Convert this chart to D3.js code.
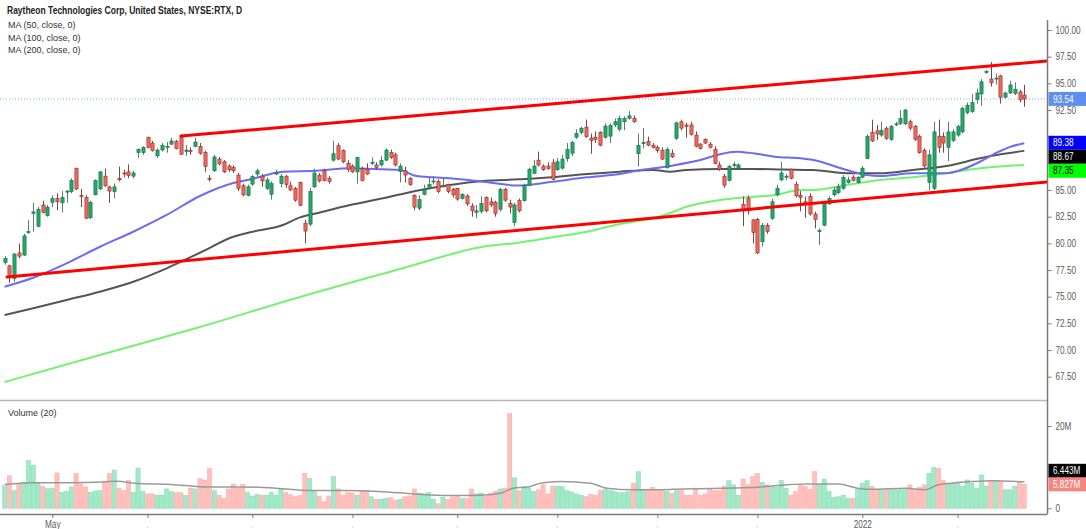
<!DOCTYPE html>
<html>
<head>
<meta charset="utf-8">
<script src="https://cdn.jsdelivr.net/npm/d3@7"></script>
<style>
  html, body { margin: 0; padding: 0; background: #fff; }
  svg { display: block; font-family: "Liberation Sans", Arial, sans-serif; }
</style>
</head>
<body>
<div id="chart"></div>
<script>
// RTX daily, Apr 19 2021 .. Feb 22 2022 (one entry per trading day)
var opens = [78.2,77.9,76.7,79.1,78.9,81.0,82.8,81.6,83.6,82.6,83.85,84.2,83.8,84.8,84.85,87.0,84.5,84.3,82.4,84.55,
  85.1,86.3,85.3,84.85,86.1,86.6,86.7,86.3,88.5,88.5,89.95,89.4,88.2,88.75,89.0,89.3,89.55,89.95,88.6,88.7,
  89.1,89.1,88.5,86.1,86.8,87.9,87.65,87.25,87.1,86.4,85.4,84.5,85.55,86.5,86.3,85.15,84.6,86.5,85.6,86.3,
  85.4,85.15,85.7,81.9,81.8,85.3,86.4,86.8,86.1,87.8,89.15,88.7,87.5,87.25,86.7,87.0,86.95,87.5,87.35,87.35,
  87.8,88.5,88.3,86.72,86.8,86.1,84.5,83.3,84.6,85.15,85.8,85.8,85.3,85.5,85.05,85.15,84.2,84.45,83.5,82.9,
  83.0,84.3,83.9,83.85,83.2,85.05,83.75,81.95,84.0,84.0,85.45,86.55,87.8,87.25,87.25,87.55,86.9,87.05,87.95,88.45,
  89.95,90.4,90.9,89.85,89.95,90.4,89.95,90.05,91.1,90.7,91.4,91.7,91.7,88.4,89.35,89.55,89.2,89.0,88.7,87.1,
  88.45,89.85,91.4,91.1,91.1,90.15,89.3,89.75,89.3,88.8,87.35,86.3,85.9,87.3,87.05,83.65,84.2,82.2,82.25,80.15,
  81.7,82.35,84.55,85.95,86.2,86.95,85.55,84.5,83.9,84.4,82.75,81.1,81.7,83.7,84.55,84.75,85.15,85.7,86.2,85.7,
  86.2,87.95,90.4,90.55,90.15,90.8,89.75,91.1,91.25,91.2,91.4,90.95,90.05,88.7,85.7,85.15,90.05,90.0,89.0,89.65,
  90.15,90.45,92.25,92.35,93.5,94.0,96.0,95.4,95.4,95.7,93.7,94.1,94.05,94.2,93.9];
var highs = [78.8,78.0,79.1,80.0,80.9,82.2,83.8,83.4,84.0,83.6,84.5,84.7,84.9,85.0,86.1,87.1,85.1,84.5,84.0,86.0,
  86.8,87.0,85.4,85.6,87.2,86.9,87.4,86.8,88.9,89.1,90.0,89.6,88.9,89.4,89.5,89.9,89.7,90.2,89.2,89.0,
  89.9,89.4,88.7,86.4,88.3,88.1,87.8,87.4,87.3,86.6,85.6,85.5,86.4,87.0,86.5,86.2,85.8,86.9,86.5,86.4,
  85.8,85.3,85.8,82.2,85.2,87.0,86.6,87.0,86.3,89.6,89.4,88.8,87.8,87.4,88.1,87.2,87.5,88.05,87.6,88.2,
  88.9,88.8,88.5,87.5,87.2,86.2,84.6,84.5,85.5,86.2,86.3,86.0,86.1,85.6,85.2,85.2,84.7,84.6,83.75,83.6,
  84.4,84.4,84.3,84.0,85.2,85.2,84.1,83.8,84.2,85.6,87.1,87.8,88.6,87.4,87.6,87.9,88.0,88.3,89.4,89.6,
  90.7,90.95,91.6,90.3,90.5,90.5,91.25,91.25,91.7,92.0,91.9,92.4,92.0,90.3,90.8,90.0,89.4,89.2,89.0,89.0,
  88.8,91.4,91.6,91.3,91.4,90.5,89.4,89.85,89.5,89.1,87.65,86.5,87.35,87.65,87.5,84.4,84.5,82.3,82.4,81.9,
  81.9,84.2,85.5,87.65,86.5,87.0,85.8,84.9,84.4,84.7,82.97,81.4,83.9,84.4,85.3,85.6,86.4,86.25,86.4,86.3,
  87.25,90.2,91.6,91.1,91.4,90.95,91.1,91.4,92.5,92.6,91.6,91.1,90.2,88.9,88.8,91.4,91.6,90.4,91.4,90.7,
  91.1,92.8,93.2,94.0,94.5,95.4,96.25,97.0,95.9,95.8,94.2,95.25,95.1,94.4,94.85];
var lows = [78.0,76.3,76.4,78.6,78.8,80.9,81.1,81.5,82.8,82.5,83.4,83.1,82.9,83.8,84.7,85.0,83.4,82.3,82.3,84.5,
  85.0,85.3,83.8,84.2,85.8,86.2,86.1,86.1,88.0,88.3,88.9,88.6,88.0,88.6,88.5,89.2,88.8,88.3,88.2,88.3,
  89.0,88.3,86.7,85.8,86.7,87.3,86.6,86.7,86.6,84.9,84.4,84.4,85.4,86.25,85.3,85.0,84.1,86.4,85.25,85.2,
  84.9,83.9,83.5,80.0,81.6,85.2,85.7,85.8,85.6,87.65,87.8,87.5,86.7,86.6,85.6,85.8,86.4,87.35,86.9,87.2,
  87.7,87.9,87.2,85.7,85.7,85.4,83.1,83.1,84.5,85.05,85.5,84.7,85.25,84.7,84.3,84.0,84.1,83.5,82.5,82.35,
  82.8,82.9,83.4,82.5,83.0,83.9,82.8,81.6,82.9,83.9,85.4,86.5,87.2,86.8,86.9,85.9,86.8,86.9,87.65,88.2,
  89.8,90.2,89.9,88.4,89.4,89.1,89.8,89.4,90.9,90.5,90.6,91.6,91.3,87.2,88.9,89.1,88.9,88.5,87.8,87.0,
  88.0,89.7,90.6,89.9,90.1,89.0,88.8,89.3,88.9,87.4,86.8,85.2,85.8,87.0,86.9,81.6,82.7,80.0,79.0,79.7,
  80.9,82.2,84.4,85.8,85.95,86.0,84.3,83.0,82.4,82.6,81.4,79.85,81.6,83.6,84.4,84.6,85.0,85.6,85.8,85.6,
  86.1,87.9,89.5,89.7,90.0,89.7,89.6,91.0,91.1,91.1,90.6,89.6,88.4,87.1,85.0,85.0,88.5,88.5,87.7,89.5,
  90.0,90.3,92.1,92.2,93.1,92.9,95.9,94.7,94.9,93.1,93.6,94.0,93.9,93.2,92.8];
var closes = [78.6,77.0,79.0,78.8,80.7,81.1,82.95,83.2,82.9,83.4,84.2,83.9,84.3,84.9,85.9,85.1,84.4,82.35,83.85,85.9,
  86.7,85.4,84.9,85.3,85.95,86.5,86.35,86.6,88.8,89.0,89.0,88.7,88.75,89.2,89.1,89.6,88.9,88.35,88.75,88.6,
  89.5,88.45,87.2,86.0,88.1,87.45,86.7,86.9,86.8,85.15,84.55,85.3,86.25,86.8,85.85,85.95,85.6,86.6,86.3,85.5,
  85.0,84.05,83.55,81.15,84.85,86.6,85.85,85.9,85.8,88.4,87.9,87.65,86.95,86.7,88.05,85.9,86.5,87.6,87.1,87.75,
  88.75,88.05,87.35,87.25,86.4,85.5,83.4,84.1,85.05,85.5,85.85,84.85,85.45,84.85,84.55,84.15,84.6,83.7,83.05,83.05,
  83.75,83.05,83.6,82.8,85.05,84.05,83.4,83.6,83.05,85.45,86.95,87.25,87.35,86.9,87.0,86.0,87.65,87.9,88.8,89.45,
  90.3,90.8,90.0,89.65,89.75,89.2,91.0,91.05,91.4,91.7,91.7,91.95,91.4,89.2,89.45,89.2,89.0,88.7,87.9,88.8,
  88.1,91.3,90.8,90.95,90.2,89.1,88.9,89.4,89.0,87.5,86.95,85.45,87.2,87.4,87.35,83.1,83.05,81.0,79.1,81.7,
  81.1,83.9,85.15,86.6,86.3,86.1,84.45,84.3,83.7,82.75,82.25,81.2,83.75,84.2,85.0,85.3,86.2,85.95,85.9,86.2,
  87.05,90.05,89.6,90.25,90.6,89.85,90.95,91.2,91.7,92.5,90.8,89.75,88.5,87.25,88.3,90.45,89.0,89.4,90.45,90.45,
  90.95,92.65,92.95,93.2,94.1,95.15,96.1,95.05,95.5,93.7,94.1,94.85,94.45,93.45,93.54];
// volume in millions
var volumes = [5.5,7.9,4.3,5.8,6.35,11.6,10.5,6.35,5.3,4.75,4.9,8.6,3.9,4.1,5.2,8.5,5.9,5.2,3.9,4.2,
  4.3,6.4,8.5,9.3,4.9,4.3,6.85,3.9,9.8,4.1,3.5,3.5,3.2,3.2,4.7,4.1,3.8,3.8,3.1,4.9,
  4.7,7.2,6.85,9.7,4.3,3.2,2.4,4.7,5.9,4.9,5.8,3.8,3.0,3.4,3.2,3.2,3.8,3.2,4.7,3.8,
  3.3,2.8,3.1,8.5,7.3,4.3,3.0,1.6,3.0,7.7,4.7,3.2,3.8,3.7,3.2,4.1,4.3,2.8,2.2,2.2,
  2.4,2.6,2.0,2.2,2.8,3.0,4.7,3.7,3.5,3.8,2.2,1.1,2.7,2.2,2.8,3.2,2.4,2.4,4.7,3.5,
  3.7,3.0,3.7,4.1,4.7,4.9,23.0,7.4,4.3,5.3,4.9,4.1,4.5,5.7,3.5,5.4,5.4,5.3,4.3,4.0,
  3.5,3.2,2.8,3.4,3.2,4.3,4.6,4.3,4.05,3.8,3.8,4.05,6.1,8.9,4.3,4.5,5.1,4.3,4.3,4.05,
  3.65,4.3,4.3,3.2,3.2,4.9,3.2,3.5,4.6,4.3,4.3,5.4,6.7,5.7,3.2,7.1,5.7,7.7,8.5,6.25,
  5.7,5.3,5.1,6.7,4.9,3.2,4.05,5.7,5.4,4.6,8.9,5.8,7.1,4.05,2.7,2.8,3.2,2.4,2.4,4.6,
  6.1,6.7,5.4,4.6,4.5,4.5,4.5,4.5,4.5,4.5,5.7,4.5,5.1,5.7,8.5,9.9,9.7,6.7,5.9,6.1,
  6.1,5.4,6.9,6.1,4.9,8.1,5.4,6.7,6.7,6.5,4.5,4.5,5.4,6.5,5.827];

// moving averages: [bar index, value]
var ma50 = [[0,75.94],[6,76.78],[13,78.13],[20,79.68],[27,81.09],[34,82.66],[41,84.44],[48,85.66],[51.5,85.98],
  [58.4,86.72],[65.5,86.81],[72.5,87.03],[79.4,86.94],[83,86.88],[86.5,86.31],[93.5,86.1],[100.4,85.78],
  [107.8,85.42],[115,85.78],[122.2,86.19],[129.1,86.5],[132.7,86.81],[139.6,87.25],[146.6,87.88],[150.1,88.35],
  [153.6,88.59],[157.1,88.44],[161.7,88.12],[167,87.97],[169.7,87.81],[176.7,86.88],[180.9,86.41],[183.7,86.31],
  [190.6,86.57],[197.6,86.57],[201.1,86.94],[204.7,87.65],[208.2,88.5],[211.6,89.13],[214,89.38]];
var ma100 = [[0,73.28],[6,73.91],[13,74.69],[20,75.47],[27,76.4],[34,77.66],[41,79.12],[48,80.62],[51.5,81.04],
  [58.4,81.72],[62,82.44],[65.5,82.82],[72.5,83.59],[79.4,84.22],[86.5,84.93],[93.5,85.47],[100.4,85.84],
  [107.8,86.0],[115,86.19],[122.2,86.5],[129.1,86.72],[136.1,86.88],[139.6,86.72],[143.1,86.88],[150.1,86.97],
  [157.1,86.97],[163.4,86.92],[169.7,86.88],[176.7,86.57],[183.7,86.57],[190.6,86.88],[197.6,87.25],
  [204.7,87.97],[208.2,88.28],[214,88.67]];
var ma200 = [[0,67.0],[20,69.53],[41,72.16],[62,74.97],[83,77.59],[100.4,79.68],[108.2,80.08],[115,80.57],
  [122.2,81.09],[129.1,81.81],[136.1,82.35],[139.6,82.82],[143.1,83.43],[150.1,84.06],[155.7,84.32],
  [161.7,84.53],[167,85.0],[169.7,85.0],[176.7,85.47],[183.7,85.94],[190.6,86.19],[197.6,86.57],
  [204.7,87.03],[214,87.35]];
var volMa = [[0,5.8],[6,6.2],[13.5,6.2],[20.7,6.4],[23.6,6.6],[28,6.0],[35,5.8],[42,5.2],[50,5.2],[57,4.9],
  [64,4.3],[71,4.3],[78.5,4.1],[86,3.5],[93,3.1],[100,3.2],[104.5,3.8],[106.7,4.9],[110,5.2],[112.4,6.1],
  [116.6,6.5],[122.9,6.1],[126.4,4.9],[132,4.5],[140,4.6],[151,4.9],[158,5.1],[161,5.4],[168,5.9],[175,5.9],
  [179,4.9],[182,4.6],[189,4.9],[193,4.5],[196,5.7],[200,6.25],[203,6.5],[207,6.7],[214,6.443]];

// hand-drawn channel: [bar index, price]
var channelUpper = [[37,90.06],[218.8,97.1]];
var channelLower = [[0.5,76.84],[218.8,85.75]];

var priceTicks = [67.5,70,72.5,75,77.5,80,82.5,85,87.5,90,92.5,95,97.5,100];
var hiddenTicks = [87.5, 90];   // covered by the MA tags on the axis
var volTicks = [0,20];
var monthIdx = [10,30,52,73,95,116,137,158,180,200];
var monthLabels = ['May','','','','','','','','2022',''];

var width = 1086, height = 529,
    plotRight = 1047.5, priceTop = 20, priceBottom = 400, volBottom = 514;

var svg = d3.select('#chart').append('svg')
    .attr('width', width)
    .attr('height', height);

var x = d3.scaleLinear().domain([0, 214]).range([4.6, 1024.3]),
    y = d3.scaleLinear().domain([67.5, 100]).range([376.7, 30]),
    yv = d3.scaleLinear().domain([0, 20]).range([508.3, 426]);

// squeeze text horizontally, the chart uses a narrow face
function narrow(sel, k){
    sel.each(function(){
        var w = this.getComputedTextLength();
        if (w > 0) d3.select(this).attr('textLength', w * k).attr('lengthAdjust', 'spacingAndGlyphs');
    });
}

var defs = svg.append('defs');
defs.append('clipPath').attr('id', 'clipPrice').append('rect')
    .attr('x', 0).attr('y', priceTop).attr('width', plotRight).attr('height', priceBottom - priceTop);
defs.append('clipPath').attr('id', 'clipVol').append('rect')
    .attr('x', 0).attr('y', priceBottom).attr('width', plotRight).attr('height', volBottom - priceBottom);

// pane separator
svg.append('line')
    .attr('x1', 0).attr('x2', plotRight)
    .attr('y1', priceBottom + 0.5).attr('y2', priceBottom + 0.5)
    .attr('stroke', '#b8b8b8').attr('stroke-width', 1.5);

var gPrice = svg.append('g').attr('clip-path', 'url(#clipPrice)');
var gVol = svg.append('g').attr('clip-path', 'url(#clipVol)');

// last price dotted line
gPrice.append('line')
    .attr('x1', 0).attr('x2', plotRight)
    .attr('y1', y(closes[closes.length - 1])).attr('y2', y(closes[closes.length - 1]))
    .attr('stroke', '#7c9cec').attr('stroke-width', 1)
    .attr('stroke-dasharray', '1,2');

var maLine = d3.line()
    .x(function(d){ return x(d[0]); })
    .y(function(d){ return y(d[1]); })
    .curve(d3.curveMonotoneX);

gPrice.append('path').attr('d', maLine(ma200))
    .attr('fill', 'none').attr('stroke', '#72f272').attr('stroke-width', 2);
gPrice.append('path').attr('d', maLine(ma100))
    .attr('fill', 'none').attr('stroke', '#555555').attr('stroke-width', 2);
gPrice.append('path').attr('d', maLine(ma50))
    .attr('fill', 'none').attr('stroke', '#6b6bf5').attr('stroke-width', 2);

// candles
var idx = d3.range(closes.length);
var candle = gPrice.selectAll('g.candle').data(idx).enter()
    .append('g').attr('class', 'candle');

candle.append('line')
    .attr('x1', function(i){ return Math.round(x(i)) + 0.5; })
    .attr('x2', function(i){ return Math.round(x(i)) + 0.5; })
    .attr('y1', function(i){ return y(highs[i]); })
    .attr('y2', function(i){ return y(lows[i]); })
    .attr('stroke', function(i){ return closes[i] >= opens[i] ? '#5d7d6c' : '#7a4843'; })
    .attr('stroke-width', 1);

candle.append('rect')
    .attr('x', function(i){ return Math.round(x(i)) + 0.5 - 1.6; })
    .attr('width', 3.2)
    .attr('y', function(i){ return y(Math.max(opens[i], closes[i])); })
    .attr('height', function(i){ return Math.max(1, Math.abs(y(opens[i]) - y(closes[i]))); })
    .attr('fill', function(i){ return closes[i] >= opens[i] ? '#22a868' : '#ef6a5d'; })
    .attr('stroke', function(i){ return closes[i] >= opens[i] ? '#1b6b45' : '#8f2c24'; })
    .attr('stroke-width', 0.6);

// channel
[channelUpper, channelLower].forEach(function(seg){
    gPrice.append('line')
        .attr('x1', x(seg[0][0])).attr('y1', y(seg[0][1]))
        .attr('x2', x(seg[1][0])).attr('y2', y(seg[1][1]))
        .attr('stroke', '#ff0000').attr('stroke-width', 3)
        .attr('stroke-linecap', 'round');
});

// volume
gVol.selectAll('rect').data(idx).enter().append('rect')
    .attr('x', function(i){ return x(i) - 2.1; })
    .attr('width', 4.2)
    .attr('y', function(i){ return yv(volumes[i]); })
    .attr('height', function(i){ return yv(0) - yv(volumes[i]); })
    .attr('fill', function(i){ return closes[i] >= opens[i] ? '#a2e8c9' : '#ffc0bb'; })
    .attr('stroke', function(i){ return closes[i] >= opens[i] ? '#7fdcb1' : '#ffaaa3'; })
    .attr('stroke-width', 0.5);

gVol.append('path')
    .attr('d', d3.line()
        .x(function(d){ return x(d[0]); })
        .y(function(d){ return yv(d[1]); })
        .curve(d3.curveMonotoneX)(volMa))
    .attr('fill', 'none').attr('stroke', '#9a9a9a').attr('stroke-width', 1.5);

// right axes
var axisColor = '#7a7a7a', labelColor = '#5a5a5a';

var gy = svg.append('g')
    .attr('transform', 'translate(' + plotRight + ',0)')
    .call(d3.axisRight(y).tickValues(priceTicks)
        .tickFormat(function(d){ return hiddenTicks.indexOf(d) >= 0 ? '' : d3.format('.2f')(d); })
        .tickSize(4).tickPadding(4));
var gyv = svg.append('g')
    .attr('transform', 'translate(' + plotRight + ',0)')
    .call(d3.axisRight(yv).tickValues(volTicks).tickFormat(function(d){ return d ? d + 'M' : '0'; })
        .tickSize(4).tickPadding(4));
[gy, gyv].forEach(function(g){
    g.select('.domain').remove();
    g.selectAll('line').attr('stroke', axisColor);
    g.selectAll('text').attr('fill', labelColor).style('font-size', '10px').call(narrow, 0.82);
});
svg.append('line')
    .attr('x1', plotRight).attr('x2', plotRight)
    .attr('y1', priceTop).attr('y2', volBottom)
    .attr('stroke', axisColor).attr('stroke-width', 1.5);

// time axis
var gx = svg.append('g')
    .attr('transform', 'translate(0,' + volBottom + ')')
    .call(d3.axisBottom(x).tickValues(monthIdx)
        .tickFormat(function(d, i){ return monthLabels[i]; })
        .tickSize(4).tickPadding(3).tickSizeOuter(0));
gx.select('.domain').remove();
gx.selectAll('line').attr('stroke', axisColor);
gx.selectAll('text').attr('fill', labelColor).style('font-size', '10px').call(narrow, 0.82);
svg.append('line')
    .attr('x1', 0).attr('x2', plotRight)
    .attr('y1', volBottom + 0.5).attr('y2', volBottom + 0.5)
    .attr('stroke', axisColor).attr('stroke-width', 1.5);
svg.selectAll('circle.tdot').data(monthIdx.filter(function(d, i){ return !monthLabels[i]; }))
    .enter().append('circle').attr('class', 'tdot')
    .attr('cx', function(d){ return x(d); }).attr('cy', 527)
    .attr('r', 0.7).attr('fill', '#c8c8c8');

// value tags on the axis
function tag(yPos, text, bg, fg){
    var g = svg.append('g').attr('transform', 'translate(' + (plotRight + 1) + ',' + yPos + ')');
    g.append('rect').attr('x', 0).attr('y', -7).attr('width', width - plotRight).attr('height', 14)
        .attr('fill', bg);
    g.append('text').attr('x', 4.5).attr('y', 3.6).text(text)
        .attr('fill', fg)
        .style('font-size', '10px')
        .call(narrow, 0.82);
}
tag(y(closes[closes.length - 1]), d3.format('.2f')(closes[closes.length - 1]), '#5e8ff0', '#ffffff');
tag(y(ma50[ma50.length - 1][1]) - 0.5, '89.38', '#0000ff', '#ffffff');
tag(y(ma50[ma50.length - 1][1]) + 13.5, '88.67', '#000000', '#ffffff');
tag(y(ma50[ma50.length - 1][1]) + 27.5, '87.35', '#00ff00', '#000000');
tag(yv(volumes[volumes.length - 1]) - 13.5, '6.443M', '#000000', '#ffffff');
tag(yv(volumes[volumes.length - 1]), '5.827M', '#f98580', '#ffffff');

// legends
svg.append('text').attr('x', 7).attr('y', 14)
    .text('Raytheon Technologies Corp, United States, NYSE:RTX, D')
    .style('font-size', '10px').style('font-weight', 'bold').attr('fill', '#222')
    .call(narrow, 0.85);
['MA (50, close, 0)', 'MA (100, close, 0)', 'MA (200, close, 0)'].forEach(function(t, i){
    svg.append('text').attr('x', 8).attr('y', 28 + i * 12.5).text(t)
        .style('font-size', '9px').attr('fill', '#333');
});
svg.append('text').attr('x', 8).attr('y', 416).text('Volume (20)')
    .style('font-size', '9px').attr('fill', '#333');
</script>
</body>
</html>
